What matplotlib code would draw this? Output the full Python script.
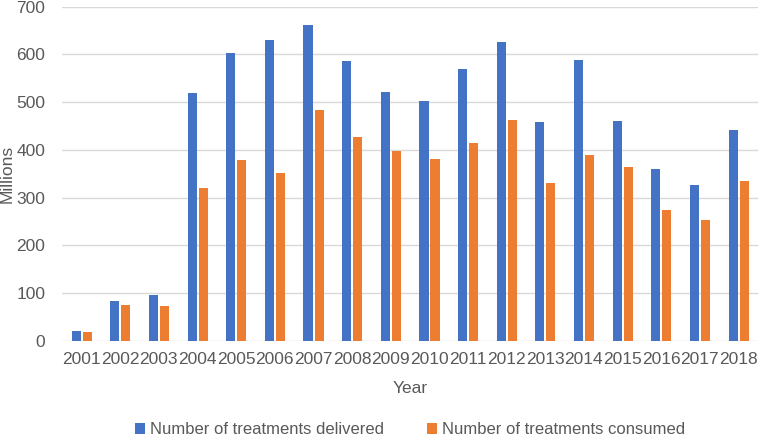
import matplotlib.pyplot as plt
import numpy as np

years = [str(y) for y in range(2001, 2019)]
delivered = [20, 84, 95, 519, 603, 631, 662, 587, 521, 503, 570, 626, 458, 588, 460, 359, 327, 441]
consumed = [18, 75, 73, 321, 379, 352, 483, 426, 397, 381, 414, 462, 331, 390, 363, 273, 253, 335]

BLUE = "#4472c4"
ORANGE = "#ed7d31"
GRAY = "#595959"
FS = 12.5

plt.rcParams["font.family"] = ["Liberation Sans", "DejaVu Sans"]

fig = plt.figure(figsize=(7.67, 4.37), dpi=100)
ax = fig.add_axes([0.081, 0.22, 0.907, 0.765])

x = np.arange(len(years))
w = 0.235
ax.bar(x - w / 2 - 0.02, delivered, width=w, color=BLUE, label="Number of treatments delivered", zorder=3)
ax.bar(x + w / 2 + 0.03, consumed, width=w, color=ORANGE, label="Number of treatments consumed", zorder=3)

ax.set_xlim(-0.5, len(years) - 0.5)
ax.set_ylim(0, 700)
ax.set_yticks(range(0, 701, 100))
ax.set_xticks(x)
ax.set_xticklabels(years)
ax.yaxis.grid(True, color="#d9d9d9", linewidth=1, zorder=0)
for s in ax.spines.values():
    s.set_visible(False)
ax.tick_params(axis="both", length=0, labelsize=FS, labelcolor=GRAY)
ax.tick_params(axis="y", pad=12)
ax.tick_params(axis="x", pad=8)

ax.set_xlabel("Year", fontsize=FS, color=GRAY, labelpad=10)
ax.set_ylabel("Millions", fontsize=FS, color=GRAY, labelpad=3)
ax.yaxis.set_label_coords(-0.068, 0.5)

fig.legend(loc="lower center", bbox_to_anchor=(0.535, -0.035), ncol=2, frameon=False,
           fontsize=12, labelcolor=GRAY, handlelength=0.6, handleheight=0.6,
           handletextpad=0.3, columnspacing=2.6)

fig.savefig("out.png", dpi=100)
